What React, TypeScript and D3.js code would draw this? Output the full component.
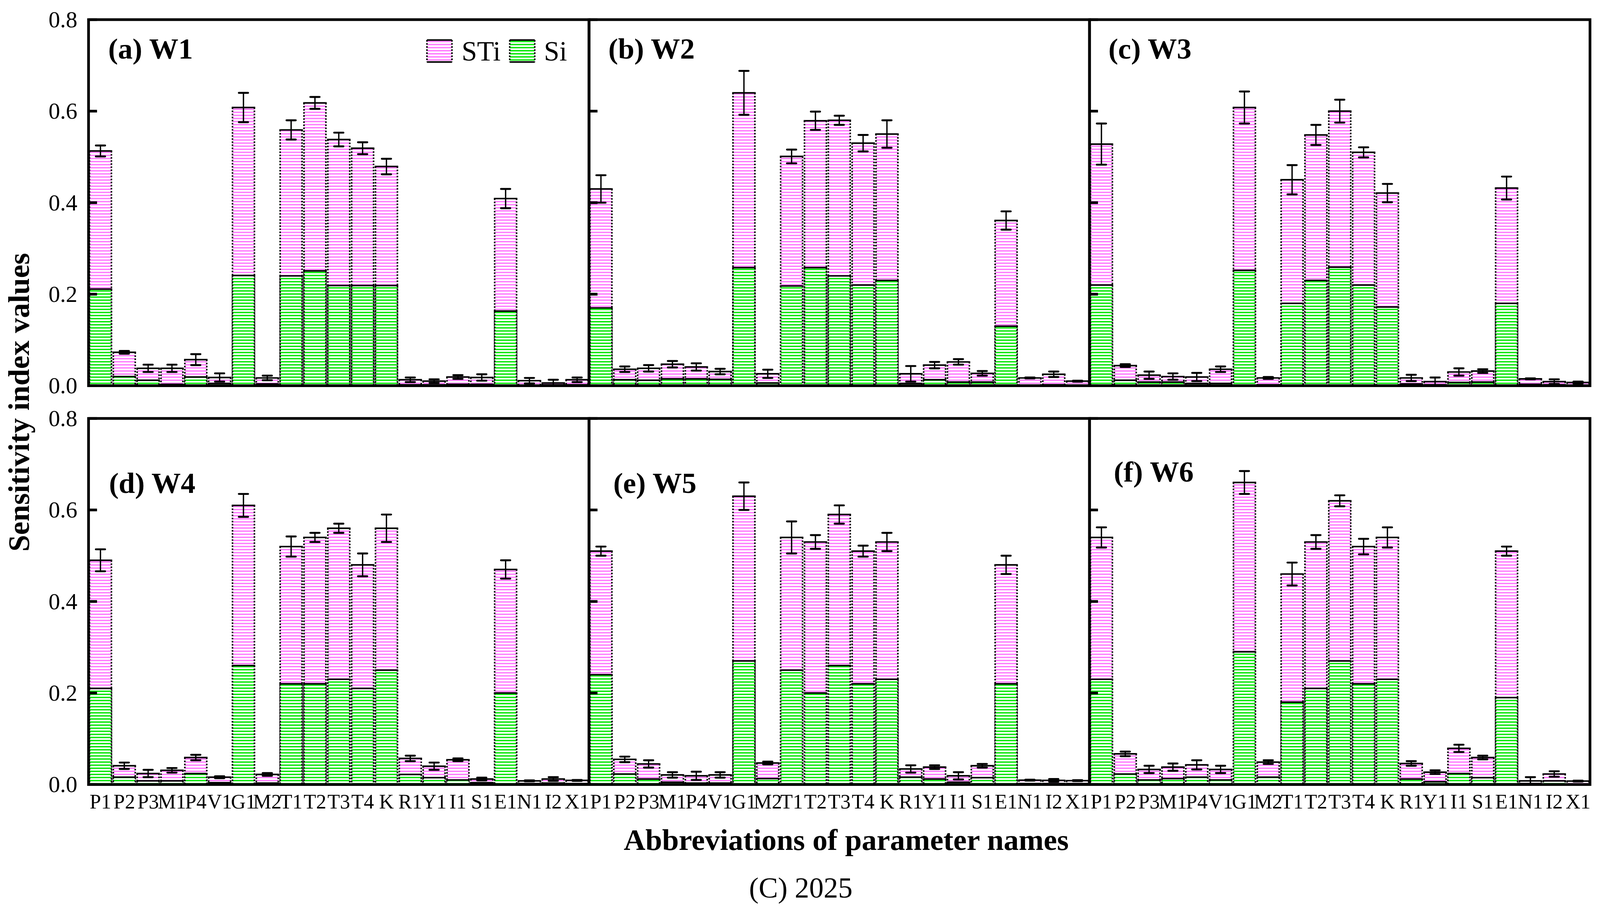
import * as d3 from 'd3';

// parameter abbreviations (x axis)
const CATEGORIES = ['P1', 'P2', 'P3', 'M1', 'P4', 'V1', 'G1', 'M2', 'T1', 'T2', 'T3', 'T4', 'K', 'R1', 'Y1', 'I1', 'S1', 'E1', 'N1', 'I2', 'X1'];
const PANEL_TITLES = ['(a) W1', '(b) W2', '(c) W3', '(d) W4', '(e) W5', '(f) W6'];
const Y_TICKS = [0, 0.2, 0.4, 0.6, 0.8];

// total-order indices (STi), first-order indices (Si), STi error
const STI_W1 = [0.513, 0.073, 0.038, 0.038, 0.057, 0.018, 0.608, 0.017, 0.559, 0.618, 0.538, 0.519, 0.479, 0.013, 0.010, 0.019, 0.018, 0.409, 0.011, 0.006, 0.013];
const SI_W1 = [0.211, 0.020, 0.012, 0.003, 0.019, 0.005, 0.241, 0.004, 0.240, 0.251, 0.219, 0.219, 0.219, 0.002, 0.002, 0.003, 0.003, 0.163, 0.001, 0.002, 0.002];
const ERR_W1 = [0.012, 0.003, 0.008, 0.008, 0.012, 0.009, 0.032, 0.005, 0.021, 0.013, 0.015, 0.013, 0.017, 0.005, 0.004, 0.004, 0.007, 0.021, 0.006, 0.007, 0.005];

const STI_W2 = [0.430, 0.036, 0.038, 0.047, 0.041, 0.031, 0.640, 0.026, 0.501, 0.579, 0.580, 0.530, 0.550, 0.026, 0.045, 0.052, 0.027, 0.361, 0.017, 0.025, 0.010];
const SI_W2 = [0.170, 0.013, 0.012, 0.015, 0.015, 0.014, 0.258, 0.006, 0.218, 0.258, 0.240, 0.220, 0.230, 0.005, 0.013, 0.008, 0.008, 0.130, 0.001, 0.002, 0.001];
const ERR_W2 = [0.030, 0.006, 0.007, 0.007, 0.008, 0.006, 0.048, 0.009, 0.015, 0.020, 0.010, 0.018, 0.030, 0.017, 0.007, 0.006, 0.005, 0.020, 0.001, 0.006, 0.001];

const STI_W3 = [0.528, 0.044, 0.023, 0.020, 0.019, 0.036, 0.608, 0.017, 0.450, 0.548, 0.600, 0.510, 0.421, 0.017, 0.009, 0.030, 0.032, 0.432, 0.015, 0.009, 0.007];
const SI_W3 = [0.220, 0.012, 0.008, 0.008, 0.005, 0.005, 0.252, 0.002, 0.180, 0.230, 0.259, 0.220, 0.172, 0.004, 0.002, 0.007, 0.008, 0.180, 0.003, 0.002, 0.001];
const ERR_W3 = [0.045, 0.003, 0.008, 0.007, 0.009, 0.006, 0.035, 0.002, 0.032, 0.022, 0.025, 0.011, 0.020, 0.007, 0.009, 0.008, 0.004, 0.025, 0.001, 0.005, 0.002];

const STI_W4 = [0.490, 0.041, 0.024, 0.031, 0.059, 0.016, 0.610, 0.022, 0.520, 0.540, 0.560, 0.480, 0.560, 0.057, 0.040, 0.054, 0.012, 0.470, 0.008, 0.012, 0.009];
const SI_W4 = [0.210, 0.016, 0.008, 0.008, 0.024, 0.004, 0.260, 0.003, 0.220, 0.220, 0.230, 0.210, 0.250, 0.022, 0.015, 0.010, 0.004, 0.200, 0.002, 0.003, 0.002];
const ERR_W4 = [0.024, 0.007, 0.008, 0.005, 0.006, 0.002, 0.025, 0.003, 0.022, 0.010, 0.010, 0.025, 0.030, 0.006, 0.008, 0.003, 0.003, 0.020, 0.001, 0.004, 0.001];

const STI_W5 = [0.510, 0.055, 0.045, 0.021, 0.019, 0.021, 0.630, 0.047, 0.540, 0.530, 0.590, 0.510, 0.530, 0.034, 0.038, 0.019, 0.041, 0.480, 0.0095, 0.009, 0.0085];
const SI_W5 = [0.240, 0.023, 0.012, 0.005, 0.003, 0.003, 0.270, 0.013, 0.250, 0.200, 0.260, 0.220, 0.230, 0.016, 0.012, 0.005, 0.015, 0.220, 0.002, 0.002, 0.002];
const ERR_W5 = [0.010, 0.006, 0.008, 0.006, 0.009, 0.006, 0.030, 0.003, 0.035, 0.015, 0.020, 0.012, 0.020, 0.008, 0.004, 0.008, 0.004, 0.020, 0.001, 0.003, 0.001];

const STI_W6 = [0.540, 0.067, 0.033, 0.038, 0.043, 0.033, 0.660, 0.049, 0.460, 0.530, 0.620, 0.520, 0.540, 0.046, 0.027, 0.079, 0.059, 0.510, 0.008, 0.023, 0.0075];
const SI_W6 = [0.230, 0.023, 0.010, 0.013, 0.016, 0.010, 0.290, 0.016, 0.180, 0.210, 0.270, 0.220, 0.230, 0.012, 0.006, 0.024, 0.015, 0.190, 0.002, 0.008, 0.001];
const ERR_W6 = [0.022, 0.005, 0.008, 0.008, 0.010, 0.008, 0.025, 0.004, 0.025, 0.015, 0.012, 0.017, 0.022, 0.005, 0.004, 0.008, 0.004, 0.010, 0.008, 0.006, 0.001];

const PANELS = [
  { title: PANEL_TITLES[0], sti: STI_W1, si: SI_W1, err: ERR_W1 },
  { title: PANEL_TITLES[1], sti: STI_W2, si: SI_W2, err: ERR_W2 },
  { title: PANEL_TITLES[2], sti: STI_W3, si: SI_W3, err: ERR_W3 },
  { title: PANEL_TITLES[3], sti: STI_W4, si: SI_W4, err: ERR_W4 },
  { title: PANEL_TITLES[4], sti: STI_W5, si: SI_W5, err: ERR_W5 },
  { title: PANEL_TITLES[5], sti: STI_W6, si: SI_W6, err: ERR_W6 },
];

const W = 4156;
const H = 2358;
const LEFT = 230;
const PANEL_W = 1300;
const PLOT_H = 951;
const ROW_TOP = [51, 1087];
const FONT = "'Liberation Serif', 'Times New Roman', serif";
const PINK = '#ff78ff';
const GREEN = '#00e600';

// title offsets from the panel's top-left corner
const TITLE_POS = [[51, 101], [50, 101], [49, 101], [53, 193], [63, 193], [63, 164]];

function HatchBar({ x, w, yTop, yBase, pattern }: { x: number; w: number; yTop: number; yBase: number; pattern: string }) {
  const h = Math.max(0, yBase - yTop);
  return (
    <g>
      <rect x={x} y={yTop} width={w} height={h} fill={`url(#${pattern})`} />
      <line x1={x} x2={x} y1={yTop} y2={yBase} stroke="#000" strokeWidth={4} strokeDasharray="4 4" />
      <line x1={x + w} x2={x + w} y1={yTop} y2={yBase} stroke="#000" strokeWidth={4} strokeDasharray="4 4" />
      <line x1={x - 2} x2={x + w + 2} y1={yTop} y2={yTop} stroke="#000" strokeWidth={4} />
    </g>
  );
}

function LegendBox({ x, y, pattern }: { x: number; y: number; pattern: string }) {
  const w = 65;
  const h = 57;
  return (
    <g>
      <rect x={x} y={y} width={w} height={h} fill={`url(#${pattern})`} />
      <line x1={x} x2={x} y1={y} y2={y + h} stroke="#000" strokeWidth={4} strokeDasharray="4 4" />
      <line x1={x + w} x2={x + w} y1={y} y2={y + h} stroke="#000" strokeWidth={4} strokeDasharray="4 4" />
      <line x1={x} x2={x + w} y1={y} y2={y} stroke="#000" strokeWidth={4} />
      <line x1={x} x2={x + w} y1={y + h} y2={y + h} stroke="#000" strokeWidth={4} />
    </g>
  );
}

function Panel({ index }: { index: number }) {
  const p = PANELS[index];
  const col = index % 3;
  const row = Math.floor(index / 3);
  const x0 = LEFT + col * PANEL_W;
  const top = ROW_TOP[row];

  const x = d3.scaleBand<string>()
    .domain(CATEGORIES)
    .range([x0, x0 + PANEL_W])
    .paddingInner(0.08)
    .paddingOuter(0.04);
  const y = d3.scaleLinear().domain([0, 0.8]).range([top + PLOT_H, top]);
  const bw = x.bandwidth();
  const fmt = d3.format('.1f');
  const [tx, ty] = TITLE_POS[index];

  return (
    <g>
      {CATEGORIES.map((c, i) => (
        <g key={c}>
          <HatchBar x={x(c)!} w={bw} yTop={y(p.sti[i])} yBase={y(0)} pattern="hatchSTi" />
          <HatchBar x={x(c)!} w={bw} yTop={y(p.si[i])} yBase={y(0)} pattern="hatchSi" />
        </g>
      ))}
      {CATEGORIES.map((c, i) => {
        const cx = x(c)! + bw / 2;
        const hi = y(p.sti[i] + p.err[i]);
        const lo = y(Math.max(0, p.sti[i] - p.err[i]));
        return (
          <g key={`e${c}`} stroke="#000">
            <line x1={cx} x2={cx} y1={hi} y2={lo} strokeWidth={3.5} />
            <line x1={cx - 12} x2={cx + 12} y1={hi} y2={hi} strokeWidth={5} strokeLinecap="round" />
            <line x1={cx - 12} x2={cx + 12} y1={lo} y2={lo} strokeWidth={5} strokeLinecap="round" />
          </g>
        );
      })}
      {/* inward ticks */}
      {Y_TICKS.map(t => (
        <line key={`t${t}`} x1={x0} x2={x0 + 22} y1={y(t)} y2={y(t)} stroke="#000" strokeWidth={7} />
      ))}
      <rect x={x0} y={top} width={PANEL_W} height={PLOT_H} fill="none" stroke="#000" strokeWidth={7} />
      {col === 0 && Y_TICKS.map(t => (
        <text key={`l${t}`} x={201} y={y(t) + 20} textAnchor="end" fontSize={60} fontFamily={FONT}>{fmt(t)}</text>
      ))}
      {row === 1 && CATEGORIES.map(c => (
        <text key={`c${c}`} x={x(c)! + bw / 2} y={2100} textAnchor="middle" fontSize={53} fontFamily={FONT}>{c}</text>
      ))}
      <text x={x0 + tx} y={top + ty} fontSize={76} fontWeight="bold" fontFamily={FONT}>{p.title}</text>
      {index === 0 && (
        <g fontFamily={FONT} fontSize={72}>
          <LegendBox x={x0 + 879} y={top + 53} pattern="hatchSTi" />
          <text x={x0 + 969} y={top + 106}>STi</text>
          <LegendBox x={x0 + 1094} y={top + 53} pattern="hatchSi" />
          <text x={x0 + 1183} y={top + 106}>Si</text>
        </g>
      )}
    </g>
  );
}

export default function App() {
  return (
    <svg
      viewBox={`0 0 ${W} ${H}`}
      preserveAspectRatio="xMinYMin meet"
      style={{ position: 'fixed', left: 0, top: 0, width: '100vw', height: '100vh', display: 'block', background: '#fff' }}
    >
      <defs>
        <pattern id="hatchSTi" patternUnits="userSpaceOnUse" width={8} height={8}>
          <rect width={8} height={8} fill="#fff" />
          <rect y={2} width={8} height={3.5} fill={PINK} />
        </pattern>
        <pattern id="hatchSi" patternUnits="userSpaceOnUse" width={8} height={8}>
          <rect width={8} height={8} fill="#fff" />
          <rect y={2} width={8} height={3.5} fill={GREEN} />
        </pattern>
      </defs>
      <rect width={W} height={H} fill="#fff" />
      {PANELS.map((_, i) => <Panel key={i} index={i} />)}
      <text transform={`translate(75,1045) rotate(-90)`} textAnchor="middle" fontSize={78} fontWeight="bold" fontFamily={FONT}>
        Sensitivity index values
      </text>
      <text x={2198} y={2208} textAnchor="middle" fontSize={78} fontWeight="bold" fontFamily={FONT}>
        Abbreviations of parameter names
      </text>
      <text x={2080} y={2332} textAnchor="middle" fontSize={75} fontFamily={FONT}>(C) 2025</text>
    </svg>
  );
}
